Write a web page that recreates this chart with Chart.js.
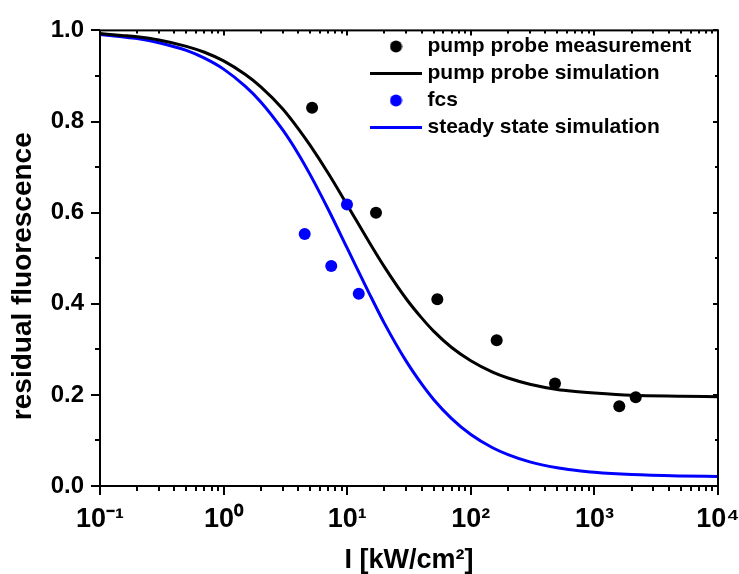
<!DOCTYPE html>
<html>
<head>
<meta charset="utf-8">
<script src="https://cdn.jsdelivr.net/npm/chart.js@4.4.1/dist/chart.umd.min.js"></script>
<style>
html,body{margin:0;padding:0;background:#fff;}
canvas{display:block;}
</style>
</head>
<body>
<canvas id="c" width="739" height="574"></canvas>
<script>
// ---- data ----
const seriesNames = ['pump probe measurement', 'pump probe simulation', 'fcs', 'steady state simulation'];

const measX = [5.2, 17.1, 53.6, 162, 480, 1590, 2160];
const measY = [0.83, 0.60, 0.41, 0.32, 0.225, 0.175, 0.195];

const fcsX = [4.53, 7.43, 9.96, 12.4];
const fcsY = [0.553, 0.483, 0.618, 0.422];

const simX   = [0.1, 0.15, 0.2, 0.3, 0.5, 0.7, 1, 1.5, 2, 3, 4, 5, 7, 10, 15, 20, 30, 40, 50, 70, 100, 150, 200, 300, 500, 700, 1000, 2000, 5000, 10000];
const ppSimY = [0.993, 0.989, 0.986, 0.979, 0.965, 0.952, 0.933, 0.903, 0.876, 0.828, 0.785, 0.748, 0.687, 0.617, 0.536, 0.481, 0.411, 0.369, 0.340, 0.304, 0.275, 0.250, 0.237, 0.2235, 0.212, 0.2075, 0.204, 0.199, 0.197, 0.196];
const ssSimY = [0.991, 0.986, 0.982, 0.973, 0.956, 0.939, 0.915, 0.877, 0.843, 0.782, 0.730, 0.684, 0.608, 0.522, 0.424, 0.357, 0.274, 0.224, 0.190, 0.148, 0.113, 0.084, 0.069, 0.053, 0.040, 0.0345, 0.030, 0.025, 0.022, 0.021];

const xTickValues = [0.1, 1, 10, 100, 1000, 10000];
const xTickLabels = ['10\u207B\u00B9', '10\u2070', '10\u00B9', '10\u00B2', '10\u00B3', '10\u2074'];
const yTickLabels = ['0.0', '0.2', '0.4', '0.6', '0.8', '1.0'];

const xTitle = 'I [kW/cm\u00B2]';
const yTitle = 'residual fluorescence';

// ---- styling ----
const FONT = "'Liberation Sans', Arial, Helvetica, sans-serif";
Chart.defaults.font.family = FONT;
Chart.defaults.font.weight = 'bold';
Chart.defaults.color = '#000';

const BLACK = '#000000';
const BLUE = '#0000ff';

function pts(xs, ys) { return xs.map((x, i) => ({x: x, y: ys[i]})); }

function lineIcon(color) {
  const c = document.createElement('canvas');
  c.width = 52; c.height = 3;
  const g = c.getContext('2d');
  g.fillStyle = color; g.fillRect(0, 0, 52, 3);
  return c;
}
function dotIcon(color) {
  const c = document.createElement('canvas');
  c.width = 13; c.height = 13;
  const g = c.getContext('2d');
  g.fillStyle = color; g.beginPath(); g.arc(6.5, 6.5, 6, 0, Math.PI * 2); g.fill();
  return c;
}
const legendIcons = [dotIcon(BLACK), lineIcon(BLACK), dotIcon(BLUE), lineIcon(BLUE)];

const legendPlace = {
  id: 'legendPlace',
  afterLayout(chart) {
    const lg = chart.legend;
    if (lg) {
      lg.left = 369; lg.top = 30; lg.right = 739; lg.bottom = 300;
      lg.width = lg.right - lg.left; lg.height = lg.bottom - lg.top;
    }
    const ys = chart.scales.y;
    if (ys && !ys._titleShifted) {
      const orig = ys.drawTitle;
      ys.drawTitle = function () {
        this.ctx.save();
        this.ctx.translate(0, 18);
        orig.apply(this, arguments);
        this.ctx.restore();
      };
      ys._titleShifted = true;
    }
  }
};

const frameTicks = {
  id: 'frameTicks',
  afterDraw(chart) {
    const ctx = chart.ctx, a = chart.chartArea, xs = chart.scales.x, ys = chart.scales.y;
    ctx.save();
    ctx.strokeStyle = '#000';
    ctx.lineWidth = 2;
    ctx.strokeRect(a.left, a.top, a.right - a.left, a.bottom - a.top);
    const seg = (x1, y1, x2, y2) => { ctx.beginPath(); ctx.moveTo(x1, y1); ctx.lineTo(x2, y2); ctx.stroke(); };
    for (let k = 0; k <= 10; k++) {
      const py = Math.round(ys.getPixelForValue(k / 10));
      const major = k % 2 === 0;
      seg(a.left - (major ? 9 : 5), py, a.left, py);
      seg(a.right, py, a.right - (major ? 5 : 3), py);
    }
    for (let d = -1; d <= 4; d++) {
      for (let m = 1; m <= 9; m++) {
        if (d === 4 && m > 1) break;
        const px = Math.round(xs.getPixelForValue(m * Math.pow(10, d)));
        const major = m === 1;
        seg(px, a.bottom, px, a.bottom + (major ? 9 : 5));
        seg(px, a.top, px, a.top + (major ? 5 : 3));
      }
    }
    ctx.restore();
  }
};

new Chart(document.getElementById('c'), {
  type: 'scatter',
  data: {
    datasets: [
      {label: seriesNames[0], data: pts(measX, measY), backgroundColor: BLACK, borderColor: BLACK, borderWidth: 0, pointRadius: 6, pointHoverRadius: 6, order: 0},
      {label: seriesNames[1], data: pts(simX, ppSimY), showLine: true, borderColor: BLACK, backgroundColor: BLACK, borderWidth: 3, pointRadius: 0, pointHoverRadius: 0, cubicInterpolationMode: 'monotone', fill: false, order: 1},
      {label: seriesNames[2], data: pts(fcsX, fcsY), backgroundColor: BLUE, borderColor: BLUE, borderWidth: 0, pointRadius: 6, pointHoverRadius: 6, order: 0},
      {label: seriesNames[3], data: pts(simX, ssSimY), showLine: true, borderColor: BLUE, backgroundColor: BLUE, borderWidth: 3, pointRadius: 0, pointHoverRadius: 0, cubicInterpolationMode: 'monotone', fill: false, order: 1}
    ]
  },
  options: {
    responsive: false,
    animation: false,
    devicePixelRatio: 1,
    events: [],
    layout: {padding: {left: 0, top: 25, right: 21, bottom: 0}},
    plugins: {
      tooltip: {enabled: false},
      legend: {
        position: 'chartArea',
        align: 'start',
        labels: {
          usePointStyle: true,
          pointStyleWidth: 42,
          padding: 6,
          color: '#000',
          font: {size: 21, weight: 'bold', family: FONT},
          generateLabels(chart) {
            const items = Chart.defaults.plugins.legend.labels.generateLabels(chart);
            items.forEach(it => { it.pointStyle = legendIcons[it.datasetIndex]; });
            return items;
          },
          sort: (a, b) => a.datasetIndex - b.datasetIndex
        }
      }
    },
    scales: {
      x: {
        type: 'logarithmic',
        position: 'bottom',
        min: 0.1,
        max: 10000,
        grid: {display: false, drawTicks: false},
        border: {display: false},
        afterBuildTicks(s) { s.ticks = xTickValues.map(v => ({value: v})); },
        afterFit(s) { s.height = 88; s.paddingLeft = 0; s.paddingRight = 0; },
        ticks: {padding: 17, font: {size: 27}, maxRotation: 0, autoSkip: false, callback: (v, i) => xTickLabels[i]},
        title: {display: true, text: xTitle, font: {size: 27}, padding: {top: 0, bottom: -3}}
      },
      y: {
        type: 'linear',
        min: 0,
        max: 1,
        grid: {display: false, drawTicks: false},
        border: {display: false},
        afterFit(s) { s.width = 100; },
        ticks: {stepSize: 0.2, padding: 16, font: {size: 24}, callback: (v, i) => yTickLabels[i]},
        title: {display: true, text: yTitle, font: {size: 28}, padding: {top: 6, bottom: 0}}
      }
    }
  },
  plugins: [legendPlace, frameTicks]
});
</script>
</body>
</html>
